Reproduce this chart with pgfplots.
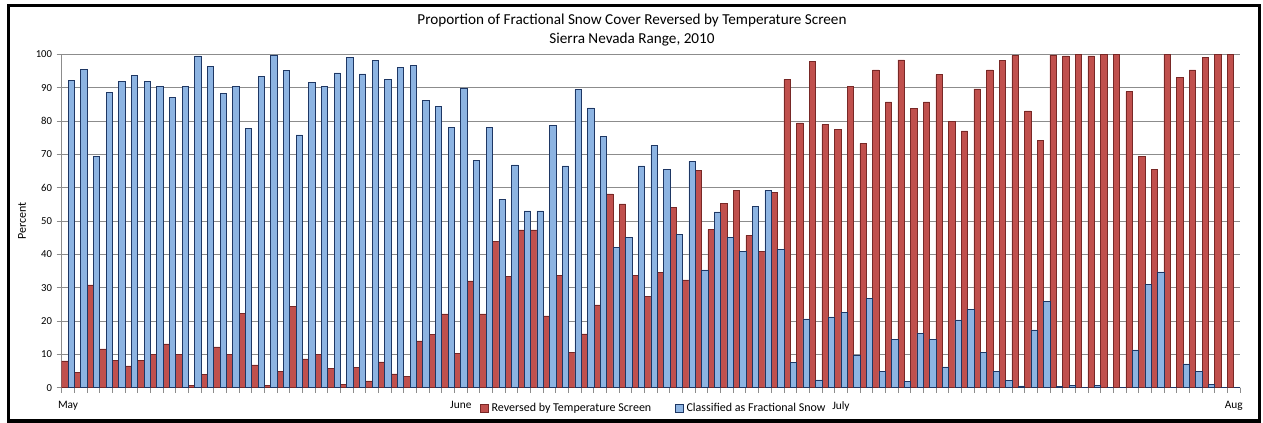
\documentclass[border=0pt]{standalone}
\usepackage{pgfplots}
\usepackage{pgfplotstable}
\pgfplotsset{compat=1.18}
\usepackage{fontspec}
\setmainfont{Carlito}
\definecolor{redfill}{RGB}{192,80,77}
\definecolor{redline}{RGB}{120,40,38}
\definecolor{bluefill}{RGB}{141,180,226}
\definecolor{blueline}{RGB}{30,55,100}
\definecolor{gridgray}{RGB}{140,140,140}
\pgfplotstableread{
d red blue
0 8.0 92.2
1 4.6 95.5
2 30.8 69.4
3 11.6 88.6
4 8.2 91.9
5 6.5 93.6
6 8.2 91.9
7 9.9 90.4
8 13.1 87.1
9 9.9 90.4
10 0.6 99.5
11 4.0 96.4
12 12.2 88.3
13 9.9 90.4
14 22.3 77.8
15 6.8 93.3
16 0.6 99.8
17 4.9 95.2
18 24.3 75.8
19 8.6 91.6
20 9.9 90.4
21 5.7 94.4
22 1.0 99.1
23 6.0 94.1
24 2.0 98.1
25 7.7 92.5
26 4.1 96.1
27 3.4 96.7
28 14.0 86.2
29 15.9 84.3
30 22.1 78.1
31 10.3 89.9
32 32.0 68.2
33 22.1 78.1
34 43.8 56.4
35 33.3 66.8
36 47.3 53.0
37 47.3 53.0
38 21.5 78.6
39 33.6 66.5
40 10.5 89.5
41 16.1 83.9
42 24.8 75.4
43 58.1 42.1
44 55.1 45.1
45 33.6 66.5
46 27.3 72.7
47 34.6 65.5
48 54.1 46.0
49 32.3 67.9
50 65.1 35.3
51 47.4 52.7
52 55.3 45.1
53 59.2 40.9
54 45.7 54.4
55 40.9 59.2
56 58.6 41.5
57 92.5 7.6
58 79.4 20.6
59 97.8 2.3
60 78.9 21.2
61 77.5 22.6
62 90.4 9.8
63 73.3 26.8
64 95.3 4.9
65 85.7 14.5
66 98.3 1.8
67 83.7 16.3
68 85.7 14.5
69 93.9 6.2
70 79.9 20.3
71 77.0 23.5
72 89.6 10.5
73 95.3 4.9
74 98.1 2.1
75 99.6 0.5
76 83.0 17.3
77 74.1 25.9
78 99.8 0.3
79 99.5 0.7
80 100 0
81 99.5 0.7
82 100 0
83 100 0
84 88.8 11.3
85 69.4 31.0
86 65.4 34.7
87 100 0
88 93.0 7.1
89 95.3 4.9
90 99.1 1.0
91 100 0
92 100 0
}\snowdata
\begin{document}
\begin{tikzpicture}[x=1pt,y=1pt]
\useasboundingbox (0,0) rectangle (947.25,317.25);
\begin{axis}[
  at={(46.3pt,26.5pt)}, anchor=south west,
  scale only axis, width=883.7pt, height=250pt,
  xmin=0, xmax=93, ymin=0, ymax=100,
  axis x line*=bottom, axis y line*=left,
  axis line style={-, draw=gridgray, line width=0.6pt},
  xtick={0.5,31.5,61.5,92.5},
  xticklabels={May,June,July,Aug},
  minor xtick={0,...,93},
  major tick length=3.75pt, minor tick length=3.75pt,
  major x tick style={draw=none},
  x tick label style={font=\fontsize{8.5}{10}\selectfont, yshift=-3pt},
  ytick={0,10,...,100},
  tick align=outside,
  tick style={draw=gridgray, line width=0.6pt},
  ymajorgrids, grid style={draw=gridgray, line width=0.6pt},
  y tick label style={font=\fontsize{8}{9.6}\selectfont},
  /pgf/number format/assume math mode=true,
  ylabel={Percent},
  ylabel style={at={(axis description cs:-0.0337,0.5)}, anchor=center, font=\fontsize{9}{10.8}\selectfont},
  legend style={at={(0.355,-0.063)}, anchor=west, draw=none, fill=none,
    font=\fontsize{9}{10.8}\selectfont, inner sep=0pt,
    /tikz/every even column/.append style={column sep=16pt}},
  legend columns=2,
]
\addplot[ybar, bar width=0.5, bar shift=0pt, fill=redfill, draw=redline, line width=0.5pt,
  legend image code/.code={\draw[fill=redfill,draw=redline,line width=0.5pt] (0pt,-3pt) rectangle (6pt,3pt);}]
  table[x expr=\thisrow{d}+0.25, y=red] {\snowdata};
\addlegendentry{Reversed by Temperature Screen}
\addplot[ybar, bar width=0.5, bar shift=0pt, fill=bluefill, draw=blueline, line width=0.5pt,
  legend image code/.code={\draw[fill=bluefill,draw=blueline,line width=0.5pt] (0pt,-3pt) rectangle (6pt,3pt);}]
  table[x expr=\thisrow{d}+0.75, y=blue] {\snowdata};
\addlegendentry{Classified as Fractional Snow}
\end{axis}
\node[font=\fontsize{11.4}{13.7}\selectfont] at (474,302.25) {Proportion of Fractional Snow Cover Reversed by Temperature Screen};
\node[font=\fontsize{11.4}{13.7}\selectfont] at (474,287.25) {Sierra Nevada Range, 2010};
\draw[black, line width=2.5pt] (6.5,1.5) rectangle (944.5,313);
\end{tikzpicture}
\end{document}
